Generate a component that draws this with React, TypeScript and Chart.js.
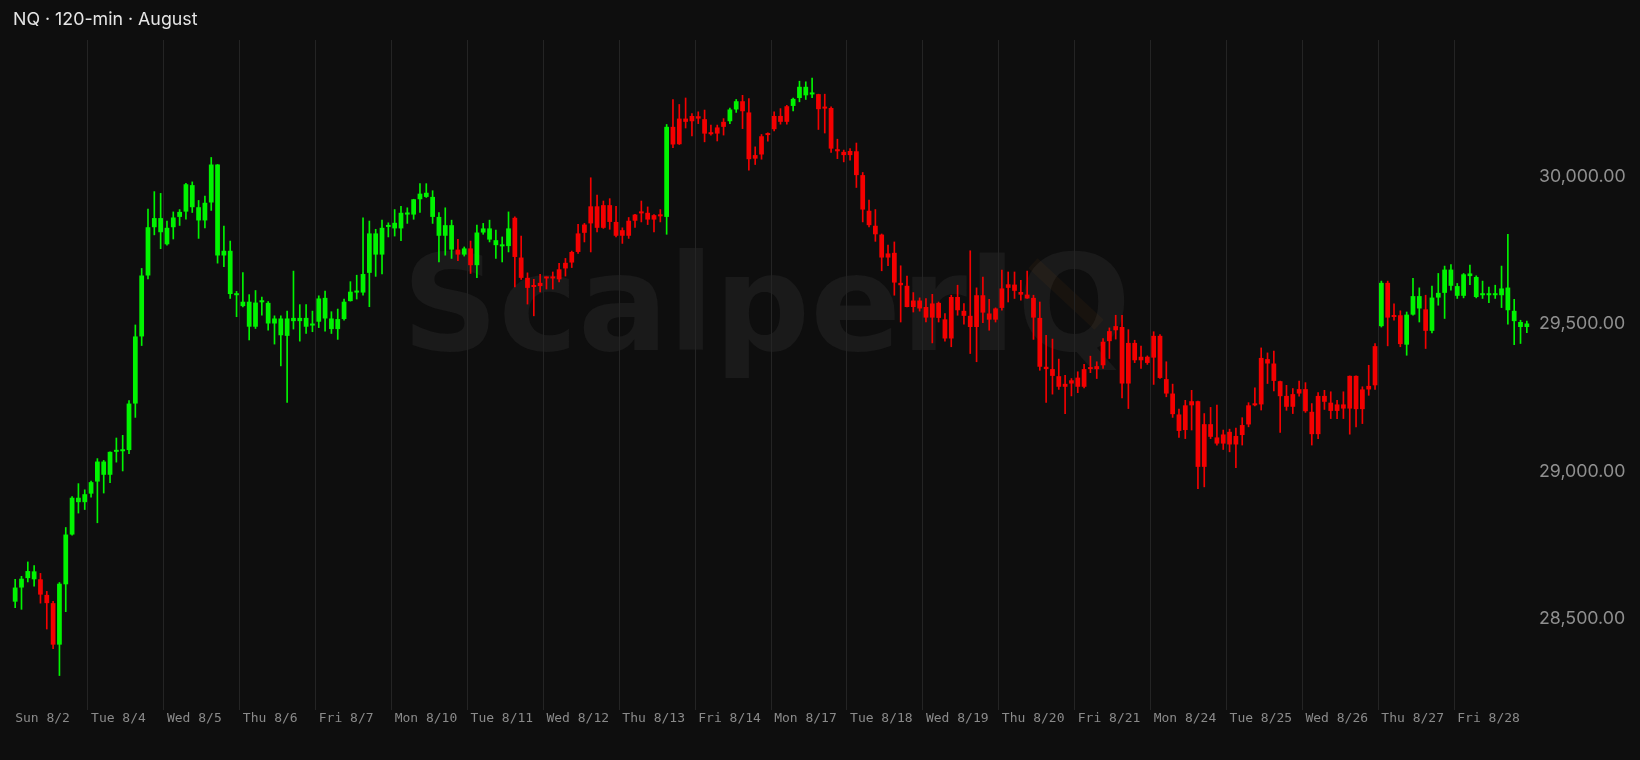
import React, { useEffect, useRef } from "react";
import { Chart, registerables } from "chart.js";

Chart.register(...registerables);

// ---- data (120-min candles, 12 per session) ----
const dayLabels = [
  "Sun 8/2", "Tue 8/4", "Wed 8/5", "Thu 8/6", "Fri 8/7",
  "Mon 8/10", "Tue 8/11", "Wed 8/12", "Thu 8/13", "Fri 8/14",
  "Mon 8/17", "Tue 8/18", "Wed 8/19", "Thu 8/20", "Fri 8/21",
  "Mon 8/24", "Tue 8/25", "Wed 8/26", "Thu 8/27", "Fri 8/28",
];
const candlesPerDay = 12;

const opens = [
  28557, 28605, 28637, 28633, 28633, 28580, 28552, 28411, 28616, 28785, 28895, 28895,
  28924, 28965, 28988, 28988, 29066, 29068, 29072, 29230, 29458, 29665, 29829, 29812,
  29771, 29829, 29864, 29882, 29897, 29852, 29852, 29913, 29733, 29733, 29602, 29598,
  29561, 29491, 29491, 29574, 29502, 29502, 29462, 29460, 29510, 29510, 29491, 29495,
  29508, 29519, 29483, 29483, 29517, 29578, 29607, 29607, 29674, 29736, 29736, 29830,
  29825, 29825, 29872, 29872, 29924, 29932, 29864, 29800, 29800, 29753, 29753, 29736,
  29757, 29700, 29811, 29787, 29768, 29764, 29765, 29861, 29726, 29657, 29627, 29640,
  29656, 29656, 29686, 29708, 29745, 29808, 29838, 29900, 29900, 29904, 29904, 29847,
  29819, 29851, 29872, 29877, 29878, 29870, 29867, 29864, 30170, 30198, 30198, 30207,
  30206, 30196, 30146, 30168, 30187, 30189, 30229, 30257, 30219, 30074, 30138, 30147,
  30207, 30207, 30240, 30241, 30268, 30277, 30280, 30281, 30233, 30234, 30094, 30085,
  30088, 30087, 30006, 29885, 29834, 29804, 29740, 29742, 29640, 29630, 29580, 29580,
  29558, 29570, 29572, 29516, 29592, 29592, 29545, 29528, 29598, 29598, 29536, 29553,
  29621, 29635, 29634, 29609, 29600, 29589, 29521, 29355, 29347, 29323, 29297, 29309,
  29318, 29347, 29348, 29357, 29440, 29476, 29493, 29490, 29436, 29436, 29389, 29389,
  29460, 29460, 29313, 29264, 29193, 29224, 29238, 29238, 29160, 29160, 29115, 29125,
  29134, 29120, 29157, 29224, 29225, 29385, 29381, 29366, 29306, 29256, 29262, 29279,
  29279, 29202, 29256, 29256, 29233, 29227, 29227, 29324, 29324, 29278, 29290, 29425,
  29493, 29640, 29530, 29530, 29430, 29532, 29553, 29550, 29477, 29590, 29606, 29630,
  29596, 29596, 29663, 29592, 29598, 29598, 29598, 29598, 29547, 29510, 29490, 29490,
];

const closes = [
  28605, 28635, 28661, 28660, 28581, 28552, 28411, 28618, 28785, 28910, 28910, 28922,
  28963, 29033, 29033, 29066, 29066, 29068, 29230, 29458, 29665, 29829, 29860, 29860,
  29827, 29862, 29881, 29975, 29972, 29897, 29912, 30042, 30042, 29749, 29749, 29598,
  29576, 29576, 29573, 29574, 29572, 29519, 29519, 29519, 29521, 29521, 29521, 29495,
  29587, 29589, 29519, 29517, 29576, 29610, 29612, 29670, 29808, 29808, 29827, 29830,
  29844, 29878, 29879, 29924, 29943, 29946, 29932, 29864, 29836, 29836, 29736, 29757,
  29700, 29811, 29825, 29825, 29785, 29769, 29825, 29728, 29657, 29623, 29626, 29629,
  29655, 29655, 29652, 29689, 29709, 29745, 29810, 29842, 29827, 29827, 29847, 29800,
  29800, 29800, 29851, 29876, 29855, 29855, 29866, 30170, 30110, 30111, 30187, 30189,
  30198, 30147, 30145, 30147, 30170, 30229, 30257, 30223, 30060, 30062, 30076, 30142,
  30162, 30187, 30187, 30265, 30306, 30306, 30280, 30230, 30232, 30096, 30087, 30074,
  30074, 30006, 29889, 29836, 29805, 29726, 29726, 29641, 29632, 29558, 29558, 29553,
  29522, 29522, 29521, 29451, 29451, 29547, 29528, 29490, 29490, 29539, 29515, 29515,
  29555, 29623, 29613, 29600, 29587, 29522, 29355, 29347, 29324, 29287, 29287, 29298,
  29287, 29287, 29347, 29347, 29360, 29442, 29479, 29298, 29298, 29377, 29377, 29368,
  29386, 29317, 29264, 29194, 29137, 29140, 29224, 29015, 29015, 29117, 29094, 29094,
  29091, 29091, 29123, 29159, 29224, 29227, 29366, 29307, 29255, 29219, 29219, 29264,
  29204, 29126, 29126, 29236, 29205, 29205, 29213, 29213, 29211, 29211, 29278, 29292,
  29640, 29522, 29524, 29432, 29532, 29595, 29595, 29477, 29590, 29606, 29685, 29685,
  29629, 29669, 29672, 29660, 29598, 29598, 29598, 29621, 29624, 29545, 29507, 29502,
];

const highs = [
  28633, 28643, 28692, 28680, 28653, 28592, 28558, 28622, 28809, 28914, 28958, 28937,
  28967, 29043, 29037, 29066, 29113, 29122, 29240, 29497, 29689, 29891, 29950, 29944,
  29850, 29881, 29889, 29978, 29983, 29920, 29935, 30066, 30042, 29833, 29782, 29611,
  29675, 29600, 29614, 29592, 29576, 29528, 29528, 29544, 29680, 29566, 29566, 29544,
  29596, 29612, 29542, 29551, 29585, 29644, 29666, 29861, 29850, 29822, 29853, 29844,
  29889, 29900, 29895, 29924, 29977, 29977, 29953, 29879, 29895, 29853, 29788, 29762,
  29782, 29836, 29842, 29853, 29819, 29796, 29881, 29864, 29799, 29674, 29652, 29669,
  29660, 29677, 29706, 29723, 29748, 29839, 29842, 29997, 29938, 29918, 29926, 29900,
  29827, 29862, 29873, 29918, 29898, 29872, 29889, 30178, 30263, 30246, 30268, 30215,
  30221, 30227, 30176, 30176, 30198, 30234, 30263, 30277, 30266, 30102, 30144, 30150,
  30221, 30232, 30243, 30268, 30325, 30323, 30336, 30281, 30281, 30238, 30128, 30091,
  30096, 30115, 30015, 29921, 29889, 29806, 29768, 29779, 29698, 29663, 29607, 29589,
  29587, 29601, 29575, 29536, 29598, 29632, 29570, 29749, 29623, 29660, 29584, 29555,
  29683, 29677, 29677, 29649, 29680, 29598, 29575, 29462, 29449, 29381, 29326, 29315,
  29338, 29363, 29391, 29372, 29451, 29487, 29530, 29530, 29481, 29445, 29425, 29392,
  29474, 29464, 29372, 29296, 29211, 29241, 29275, 29238, 29196, 29217, 29225, 29140,
  29143, 29147, 29182, 29233, 29283, 29419, 29402, 29408, 29306, 29292, 29281, 29306,
  29301, 29230, 29267, 29275, 29270, 29241, 29270, 29324, 29324, 29287, 29360, 29434,
  29646, 29646, 29569, 29545, 29541, 29655, 29623, 29598, 29629, 29672, 29697, 29702,
  29638, 29672, 29700, 29664, 29646, 29626, 29632, 29697, 29805, 29584, 29513, 29510,
];

const lows = [
  28537, 28531, 28624, 28610, 28552, 28464, 28397, 28306, 28523, 28783, 28858, 28870,
  28912, 28825, 28926, 28961, 29031, 29001, 29060, 29183, 29427, 29653, 29803, 29756,
  29768, 29789, 29835, 29856, 29879, 29791, 29827, 29886, 29707, 29695, 29587, 29525,
  29558, 29446, 29485, 29530, 29479, 29432, 29358, 29234, 29483, 29442, 29468, 29474,
  29488, 29476, 29468, 29448, 29513, 29578, 29585, 29598, 29559, 29662, 29670, 29796,
  29799, 29783, 29842, 29856, 29879, 29930, 29842, 29711, 29734, 29723, 29715, 29731,
  29672, 29658, 29805, 29779, 29723, 29711, 29745, 29626, 29652, 29568, 29528, 29609,
  29619, 29619, 29643, 29663, 29692, 29740, 29779, 29745, 29813, 29825, 29822, 29796,
  29774, 29791, 29828, 29847, 29838, 29813, 29847, 29805, 30099, 30110, 30166, 30139,
  30181, 30119, 30142, 30122, 30142, 30181, 30219, 30164, 30023, 30042, 30060, 30121,
  30156, 30179, 30179, 30224, 30255, 30263, 30269, 30161, 30149, 30083, 30062, 30051,
  30057, 29964, 29847, 29830, 29781, 29681, 29698, 29598, 29507, 29558, 29541, 29544,
  29507, 29436, 29507, 29442, 29423, 29530, 29500, 29400, 29372, 29505, 29479, 29507,
  29547, 29575, 29587, 29581, 29587, 29448, 29343, 29234, 29262, 29278, 29196, 29256,
  29267, 29283, 29335, 29315, 29349, 29383, 29449, 29249, 29213, 29369, 29349, 29363,
  29295, 29315, 29253, 29183, 29115, 29111, 29140, 28941, 28947, 29111, 29089, 29074,
  29066, 29012, 29089, 29151, 29222, 29208, 29298, 29273, 29132, 29207, 29196, 29255,
  29200, 29089, 29111, 29210, 29179, 29179, 29179, 29126, 29151, 29162, 29258, 29278,
  29490, 29426, 29513, 29423, 29394, 29530, 29507, 29417, 29470, 29564, 29519, 29615,
  29587, 29589, 29634, 29589, 29587, 29573, 29587, 29556, 29500, 29430, 29434, 29471,
];

const yTickValues = [28500, 29000, 29500, 30000];
const yMin = 28189;
const yMax = 30465;

const UP = "#00f400";
const DOWN = "#f40000";
const BG = "#0e0e0e";

const watermarkPlugin = {
  id: "watermark",
  beforeDraw(chart: any) {
    const { ctx, chartArea } = chart;
    ctx.save();
    ctx.fillStyle = BG;
    ctx.fillRect(0, 0, chart.width, chart.height);
    const text = "ScalperIQ";
    const size = 134;
    ctx.font = `bold ${size}px "DejaVu Sans"`;
    const total = ctx.measureText(text).width;
    const cx = chartArea.left + (chartArea.right - chartArea.left) * 0.497;
    const baseY = chartArea.top + (chartArea.bottom - chartArea.top) * 0.463;
    const startX = cx - total / 2;
    ctx.textAlign = "left";
    ctx.textBaseline = "alphabetic";
    ctx.fillStyle = "#1a1a1a";
    ctx.fillText(text, startX, baseY);
    // faint amber slash through the Q
    const qLeft = startX + ctx.measureText("ScalperI").width;
    const qW = ctx.measureText("Q").width;
    const qcx = qLeft + qW / 2;
    const qcy = baseY - size * 0.36;
    ctx.strokeStyle = "rgba(255,150,20,0.045)";
    ctx.lineWidth = size * 0.1;
    ctx.lineCap = "butt";
    ctx.beginPath();
    ctx.moveTo(qcx - qW * 0.36, qcy - qW * 0.34);
    ctx.lineTo(qcx + qW * 0.22, qcy + qW * 0.2);
    ctx.stroke();
    ctx.restore();
  },
};

export default function App() {
  const canvasRef = useRef<HTMLCanvasElement | null>(null);

  useEffect(() => {
    if (!canvasRef.current) return;
    const labels = opens.map((_, i) =>
      i % candlesPerDay === 0 ? dayLabels[i / candlesPerDay] : ""
    );
    const colors = opens.map((o, i) => (closes[i] >= o ? UP : DOWN));
    const total = opens.length;

    const chart = new Chart(canvasRef.current, {
      type: "bar",
      data: {
        labels,
        datasets: [
          {
            label: "wick",
            data: highs.map((h, i) => [lows[i], h]) as any,
            backgroundColor: colors,
            barThickness: 1,
            grouped: false,
            order: 2,
            borderWidth: 0,
          } as any,
          {
            label: "body",
            data: opens.map((o, i) => [o, closes[i]]) as any,
            backgroundColor: colors,
            barPercentage: 0.75,
            categoryPercentage: 1,
            grouped: false,
            minBarLength: 2,
            order: 1,
            borderWidth: 0,
          } as any,
        ],
      },
      options: {
        animation: false,
        responsive: true,
        maintainAspectRatio: false,
        layout: { padding: { left: 12, top: 40, right: 0, bottom: 0 } },
        plugins: {
          legend: { display: false },
          tooltip: { enabled: false },
          title: { display: false },
        },
        scales: {
          x: {
            offset: true,
            border: { display: false },
            grid: {
              offset: true,
              drawTicks: false,
              lineWidth: 1,
              color: (c: any) =>
                c.index > 0 && c.index < total && c.index % candlesPerDay === 0
                  ? "#242424"
                  : "rgba(0,0,0,0)",
            },
            ticks: {
              autoSkip: false,
              maxRotation: 0,
              minRotation: 0,
              align: "start",
              color: "#8a8a8a",
              padding: 1,
              font: { family: "DejaVu Sans Mono", size: 13 },
            },
            afterFit: (s: any) => {
              s.height = 50;
            },
          },
          y: {
            position: "right",
            min: yMin,
            max: yMax,
            border: { display: false },
            grid: { display: false, drawTicks: false },
            afterBuildTicks: (s: any) => {
              s.ticks = yTickValues.map((v) => ({ value: v }));
            },
            ticks: {
              color: "#8f8f8f",
              padding: 9,
              font: { family: "Inter", size: 17.8 },
              callback: (v: any) =>
                Number(v).toLocaleString("en-US", {
                  minimumFractionDigits: 2,
                  maximumFractionDigits: 2,
                }),
            },
            afterFit: (s: any) => {
              s.width = 110;
            },
          },
        },
      } as any,
      plugins: [watermarkPlugin],
    });
    return () => chart.destroy();
  }, []);

  return (
    <div
      style={{
        position: "fixed",
        left: 0,
        top: 0,
        width: 1640,
        height: 760,
        background: BG,
      }}
    >
      <canvas ref={canvasRef} style={{ display: "block" }} />
      <div
        style={{
          position: "absolute",
          left: 13,
          top: 9,
          fontFamily: "Inter, sans-serif",
          fontSize: 17.8,
          lineHeight: "20px",
          color: "#e6e6e6",
          pointerEvents: "none",
        }}
      >
        NQ · 120-min · August
      </div>
    </div>
  );
}
